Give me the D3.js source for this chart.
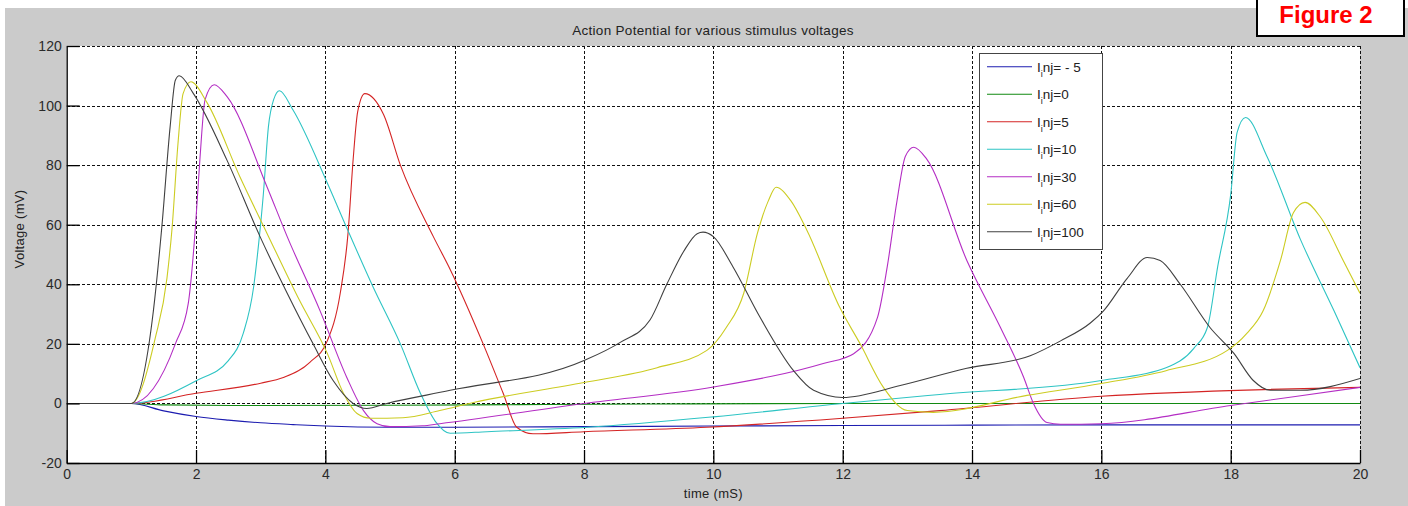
<!DOCTYPE html>
<html><head><meta charset="utf-8">
<script src="https://cdn.jsdelivr.net/npm/d3@7"></script>
<style>
html,body{margin:0;padding:0;background:#fff;}
svg{display:block;}
text{font-family:"Liberation Sans",Arial,sans-serif;}
</style></head>
<body>
<svg id="chart" width="1408" height="506"></svg>
<script>
// ---------- data ----------
const title = "Action Potential for various stimulus voltages";
const xLabel = "time (mS)";
const yLabel = "Voltage (mV)";
const xTicks = [0,2,4,6,8,10,12,14,16,18,20];
const yTicks = [-20,0,20,40,60,80,100,120];
const seriesNames = ["= - 5","=0","=5","=10","=30","=60","=100"];
const seriesColors = ["#1c1cb0","#128a12","#d42424","#2ec4c4","#b42ec4","#cccc22","#404040"];

const t_m5 = [0,1,1.5,2,2.5,3,3.5,4,4.5,5,6,8,10,12,14,16,18,20];
const v_m5 = [0,0,-2.5,-4.4,-5.6,-6.5,-7.1,-7.6,-7.9,-8,-8,-7.8,-7.6,-7.4,-7.3,-7.2,-7.2,-7.2];

const t_0 = [0,1,1.5,3,5,7,9,12,20];
const v_0 = [0,0,-0.5,-0.7,-0.6,-0.4,-0.2,0,0];

const t_5 = [0,1,2,3,3.35,3.76,4.03,4.23,4.35,4.43,4.5,4.61,4.9,5.16,5.67,5.93,6.44,6.75,6.96,7.21,8,9.9,12,13.5,16,18.6,20];
const v_5 = [0,0,3.4,6.8,8.7,13.8,21,37,57,82,98,104,97,80,56,45,20,3.4,-8,-10.2,-9.5,-8,-5,-2.4,2.4,4.7,5.4];

const t_10 = [0,1,2.01,2.5,2.73,2.89,2.97,3.04,3.12,3.2,3.29,3.5,4.03,4.33,4.74,5.16,5.47,5.7,5.93,6.5,8.05,10,12,13.5,16,17,17.43,17.64,17.8,18.0,18.1,18.23,18.56,19.08,19.6,20];
const v_10 = [0,0,7.7,14.4,23.5,39,54,70,93,102,105,98.5,74,59,39,20,3.4,-6,-10,-9.5,-8,-4.5,0,3,7.7,12,18.5,25.5,46,70,91,96,83,55,31,12];

const t_30 = [0,1,1.68,1.88,1.99,2.06,2.14,2.28,2.48,3.1,3.41,3.92,4.33,4.59,4.8,5.0,5.5,5.77,8,10,11.7,12.17,12.54,12.69,12.84,12.97,13.1,13.3,13.92,14.44,14.8,14.95,15.16,15.37,16,18,20];
const v_30 = [0,0,20,33.6,59,82,102,107,103,72.6,56,31,8.8,-2.4,-6.8,-7.8,-7.5,-6.8,0,5.5,13.4,16.7,29,46,68,83,86,82,48,25.5,8.7,0,-6.4,-7,-6.8,-0.7,5.4];

const t_60 = [0,1,1.37,1.55,1.63,1.72,1.8,1.92,2.17,2.68,3.1,3.6,4.03,4.28,4.49,4.7,5.2,5.77,6.29,8,9.13,9.9,10.2,10.47,10.68,10.85,10.97,11.2,11.45,11.96,12.27,12.63,13.0,13.4,14.85,16,17,17.95,18.25,18.5,18.77,18.97,19.15,19.39,19.74,20];
const v_60 = [0,0,22,42,59,87,104,108,101,76,57,34.6,16.8,3.4,-3.4,-5,-4.8,-2.4,0.3,7,12,17.8,25.5,37,57,68,72.6,68,58,32,20,5.4,-2.4,-3,2.7,6.7,11,17.8,23.5,31,48,64,67.5,62.5,48,37];

const t_100 = [0,1,1.34,1.47,1.6,1.68,1.74,1.96,2.48,2.99,3.41,3.81,4.12,4.43,4.64,4.95,5.93,8,8.56,9.02,9.28,9.54,9.75,9.84,10,10.3,10.72,11.24,11.55,12,12.89,13.92,14.9,15.37,15.83,16.03,16.4,16.71,16.91,17.22,17.68,18.05,18.35,18.61,19.08,20];
const v_100 = [0,0,31,59,93,108.5,110,104,81.6,56,37,20,7.7,0,-1.7,0,4.4,14.4,20.5,28,40,51,57,57.5,56,46,29,11,4.4,2,6,11.8,16,21,27,31,42,49,48,40,25.5,16.8,7.7,4.4,4.4,8.4];

const seriesT = [t_m5,t_0,t_5,t_10,t_30,t_60,t_100];
const seriesV = [v_m5,v_0,v_5,v_10,v_30,v_60,v_100];

// ---------- layout ----------
const svg = d3.select("#chart");
const W = 1408, H = 506;
const L = 66.7, R = 1360, T = 46, B = 463;

svg.append("rect").attr("x",5).attr("y",8).attr("width",W-5).attr("height",H-8).attr("fill","#cbcbcb");
svg.append("rect").attr("x",L).attr("y",T).attr("width",R-L).attr("height",B-T).attr("fill","#fff");

const x = d3.scaleLinear().domain([0,20]).range([L,R]);
const y = d3.scaleLinear().domain([-20,120]).range([B,T]);

// grid
const grid = svg.append("g").attr("stroke","#111").attr("stroke-width",1).attr("stroke-dasharray","3,2").attr("shape-rendering","crispEdges");
grid.selectAll(".gx").data(xTicks.filter(d=>d!==0)).enter().append("line")
  .attr("x1",d=>Math.round(x(d))+0.5).attr("x2",d=>Math.round(x(d))+0.5).attr("y1",T).attr("y2",B);
grid.selectAll(".gy").data(yTicks.filter(d=>d!==-20)).enter().append("line")
  .attr("y1",d=>Math.round(y(d))+0.5).attr("y2",d=>Math.round(y(d))+0.5).attr("x1",L).attr("x2",R);

// series
svg.append("clipPath").attr("id","clip").append("rect").attr("x",L).attr("y",T).attr("width",R-L).attr("height",B-T);
const line = d3.line().x(d=>x(d[0])).y(d=>y(d[1])).curve(d3.curveMonotoneX);
const plotG = svg.append("g").attr("clip-path","url(#clip)");
seriesT.forEach((ts,i)=>{
  const pts = ts.map((t,j)=>[t,seriesV[i][j]]);
  plotG.append("path").datum(pts).attr("d",line).attr("fill","none")
    .attr("stroke",seriesColors[i]).attr("stroke-width",1.1);
});

// axes
const fmt = d=>String(d);
const xAxis = d3.axisBottom(x).tickValues(xTicks).tickFormat(fmt).tickSizeInner(-13).tickSizeOuter(0).tickPadding(6);
const yAxis = d3.axisLeft(y).tickValues(yTicks).tickFormat(fmt).tickSizeInner(-13).tickSizeOuter(0).tickPadding(5);
const gx = svg.append("g").attr("transform",`translate(0,${B})`).call(xAxis);
const gy = svg.append("g").attr("transform",`translate(${L},0)`).call(yAxis);
[gx,gy].forEach(g=>{
  g.select(".domain").attr("stroke","#000").attr("stroke-width",1.3);
  g.selectAll(".tick line").attr("stroke","#000").attr("stroke-width",1.3);
  g.selectAll(".tick text").attr("fill","#2a2a2a").attr("font-size",14).attr("font-family","'Liberation Sans',Arial,sans-serif");
});

// titles
svg.append("text").attr("x",713).attr("y",35).attr("text-anchor","middle").attr("font-size",13.5).attr("letter-spacing",0.3).attr("fill","#222").text(title);
svg.append("text").attr("x",(L+R)/2).attr("y",498).attr("text-anchor","middle").attr("font-size",13).attr("letter-spacing",0.3).attr("fill","#222").text(xLabel);
svg.append("text").attr("transform","translate(24,229) rotate(-90)").attr("text-anchor","middle").attr("font-size",13).attr("letter-spacing",0.3).attr("fill","#222").text(yLabel);

// legend
const lg = svg.append("g");
lg.append("rect").attr("x",979.5).attr("y",53.5).attr("width",123).attr("height",196).attr("fill","#fff").attr("stroke","#444").attr("stroke-width",1);
seriesNames.forEach((nm,i)=>{
  const yy = 66.7 + i*27.5;
  lg.append("line").attr("x1",987).attr("x2",1032).attr("y1",yy).attr("y2",yy).attr("stroke",seriesColors[i]).attr("stroke-width",1.1);
  const tx = lg.append("text").attr("x",1037).attr("y",yy+5).attr("font-size",13.5).attr("fill","#222");
  tx.append("tspan").text("I");
  tx.append("tspan").attr("dy",5).attr("font-size",9).text("i");
  tx.append("tspan").attr("dy",-5).text("nj"+nm);
});

// Figure 2 badge
svg.append("rect").attr("x",1257).attr("y",-2).attr("width",147).attr("height",38).attr("fill","#fff").attr("stroke","#000").attr("stroke-width",2);
svg.append("text").attr("x",1326).attr("y",23).attr("text-anchor","middle").attr("font-family","'Open Sans',sans-serif").attr("font-weight","bold").attr("font-size",24).attr("fill","#ff0000").text("Figure 2");
</script>
</body></html>
